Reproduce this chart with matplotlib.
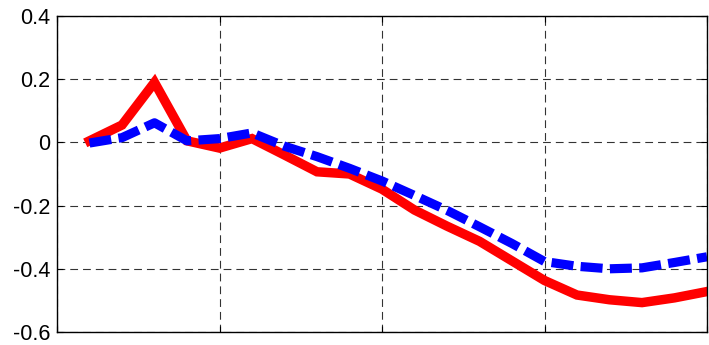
import matplotlib.pyplot as plt

# Response data
steps = list(range(1, 21))
red_vals = [0.005, 0.055, 0.19, 0.005, -0.018, 0.012, -0.04, -0.093, -0.10, -0.148,
            -0.214, -0.265, -0.313, -0.375, -0.437, -0.483, -0.498, -0.507, -0.492, -0.472]
blue_vals = [-0.002, 0.015, 0.062, 0.005, 0.012, 0.03, -0.012, -0.045, -0.082, -0.122,
             -0.168, -0.215, -0.267, -0.32, -0.377, -0.392, -0.40, -0.397, -0.38, -0.362]

x_ticks = [0, 5, 10, 15, 20]
y_ticks = [-0.6, -0.4, -0.2, 0, 0.2, 0.4]
y_labels = ["-0.6", "-0.4", "-0.2", "0", "0.2", "0.4"]

plt.rcParams["font.family"] = ["Liberation Sans", "DejaVu Sans"]

fig = plt.figure(figsize=(7.09, 3.45), dpi=100)
ax = fig.add_axes([57 / 709, 13 / 345, 650 / 709, 316 / 345])

ax.plot(steps, red_vals, color="red", linewidth=6.8, solid_joinstyle="miter")
ax.plot(steps, blue_vals, color="blue", linewidth=6.6, linestyle=(0, (2.4, 0.8)))

ax.set_xlim(0, 20)
ax.set_ylim(-0.6, 0.4)
ax.set_xticks(x_ticks)
ax.set_xticklabels([])
ax.set_yticks(y_ticks)
ax.set_yticklabels(y_labels, fontsize=15.5)

ax.grid(True, color="black", linestyle=(0, (7, 4.5)), linewidth=0.8, alpha=0.8)
ax.tick_params(direction="in", length=4, top=True, right=True, width=0.8, pad=5)
for s in ax.spines.values():
    s.set_linewidth(1.0)

fig.savefig("out.png", dpi=100)
